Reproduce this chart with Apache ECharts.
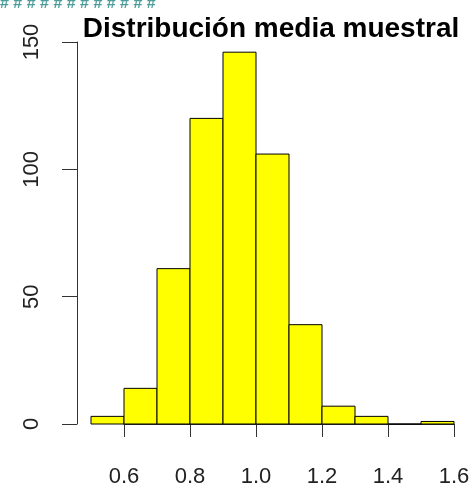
<!DOCTYPE html>
<html>
<head>
<meta charset="utf-8">
<script src="https://cdn.jsdelivr.net/npm/echarts@6/dist/echarts.min.js"></script>
<style>
  html, body { margin: 0; padding: 0; background: #fff; }
  #chart { width: 474px; height: 491px; }
</style>
</head>
<body>
<div id="chart"></div>
<script>
// histogram bins (width 0.1) and counts
var binStarts = [0.5, 0.6, 0.7, 0.8, 0.9, 1.0, 1.1, 1.2, 1.3, 1.4, 1.5];
var binEnds = [0.6, 0.7, 0.8, 0.9, 1.0, 1.1, 1.2, 1.3, 1.4, 1.5, 1.6];
var counts = [3, 14, 61, 120, 146, 106, 39, 7, 3, 0, 1];
var xTicks = [0.6, 0.8, 1.0, 1.2, 1.4, 1.6];
var yTicks = [0, 50, 100, 150];

var font = 'Liberation Sans, Arial, sans-serif';
var axisColor = '#333';

var bars = binStarts.map(function (s, i) {
    return [s, binEnds[i], counts[i]];
});

var myChart = echarts.init(document.getElementById('chart'));
var option = {
    animation: false,
    title: {
        text: 'Distribución media muestral',
        left: 266,
        top: 10,
        textAlign: 'center',
        textStyle: {
            fontFamily: font,
            fontSize: 28,
            fontWeight: 'bold',
            color: '#000'
        }
    },
    graphic: [{
        type: 'text',
        left: 0,
        top: -4,
        style: {
            text: '# # # # # # # # # # # #',
            fontFamily: font,
            fontSize: 16,
            fontWeight: 'bold',
            fill: '#4d9e9a'
        }
    }],
    grid: [{
        left: 91, right: 20, top: 42, bottom: 67
    }, {
        left: 124, right: 20, top: 42, bottom: 67
    }],
    xAxis: [{
        type: 'value',
        gridIndex: 0,
        min: 0.5,
        max: 1.6,
        show: false
    }, {
        type: 'value',
        gridIndex: 1,
        min: xTicks[0],
        max: xTicks[xTicks.length - 1],
        interval: 0.2,
        offset: 15,
        axisLine: { show: true, lineStyle: { color: axisColor, width: 1 } },
        axisTick: { show: true, length: 13, lineStyle: { color: axisColor } },
        splitLine: { show: false },
        axisLabel: {
            margin: 27,
            fontFamily: font,
            fontSize: 22,
            color: '#222',
            formatter: function (v) { return v.toFixed(1); }
        }
    }],
    yAxis: [{
        type: 'value',
        gridIndex: 0,
        min: yTicks[0],
        max: yTicks[yTicks.length - 1],
        interval: 50,
        offset: 14,
        axisLine: { show: true, lineStyle: { color: axisColor, width: 1 } },
        axisTick: { show: true, length: 15, lineStyle: { color: axisColor } },
        splitLine: { show: false },
        axisLabel: {
            rotate: 90,
            margin: 34,
            fontFamily: font,
            fontSize: 22,
            color: '#222'
        }
    }, {
        type: 'value',
        gridIndex: 1,
        show: false,
        min: 0,
        max: 150
    }],
    series: [{
        type: 'custom',
        xAxisIndex: 0,
        yAxisIndex: 0,
        data: bars,
        renderItem: function (params, api) {
            var p0 = api.coord([api.value(0), api.value(2)]);
            var p1 = api.coord([api.value(1), 0]);
            return {
                type: 'rect',
                shape: {
                    x: p0[0],
                    y: p0[1],
                    width: p1[0] - p0[0],
                    height: p1[1] - p0[1]
                },
                style: {
                    fill: '#ffff00',
                    stroke: '#000',
                    lineWidth: 1
                }
            };
        }
    }]
};
myChart.setOption(option);
</script>
</body>
</html>
